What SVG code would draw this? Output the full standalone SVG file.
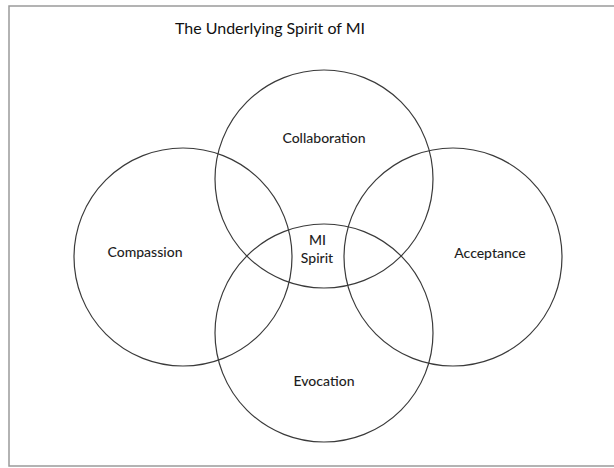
<svg xmlns="http://www.w3.org/2000/svg" width="614" height="468" viewBox="0 0 614 468">
  <style>
    .frame { fill: #ffffff; stroke: #9a9a9a; stroke-width: 1.5; }
    .ring { fill: none; stroke: #3a3a3a; stroke-width: 1.2; }
    .label { font-family: Lato, "Liberation Sans", sans-serif; font-size: 14px; font-weight: 500; fill: #1e1e1e; text-anchor: middle; }
    .title { font-family: Lato, "Liberation Sans", sans-serif; font-size: 16px; fill: #111111; text-anchor: middle; }
  </style>

  <rect width="614" height="468" fill="#ffffff"/>
  <rect class="frame" x="9" y="6" width="606" height="460"/>

  <text class="title" x="270" y="34">The Underlying Spirit of MI</text>

  <!-- the four overlapping spirit circles -->
  <g id="collaboration">
    <circle class="ring" cx="324" cy="179" r="109"/>
    <text class="label" x="324" y="143">Collaboration</text>
  </g>
  <g id="compassion">
    <circle class="ring" cx="183" cy="257" r="109"/>
    <text class="label" x="145" y="257">Compassion</text>
  </g>
  <g id="acceptance">
    <circle class="ring" cx="453" cy="257" r="109"/>
    <text class="label" x="490" y="258">Acceptance</text>
  </g>
  <g id="evocation">
    <circle class="ring" cx="324" cy="333" r="109"/>
    <text class="label" x="324" y="386">Evocation</text>
  </g>

  <!-- shared centre -->
  <g id="mi-spirit">
    <text class="label" x="317.5" y="245">MI</text>
    <text class="label" x="317" y="263">Spirit</text>
  </g>

  <g id="connectors"/>
</svg>
